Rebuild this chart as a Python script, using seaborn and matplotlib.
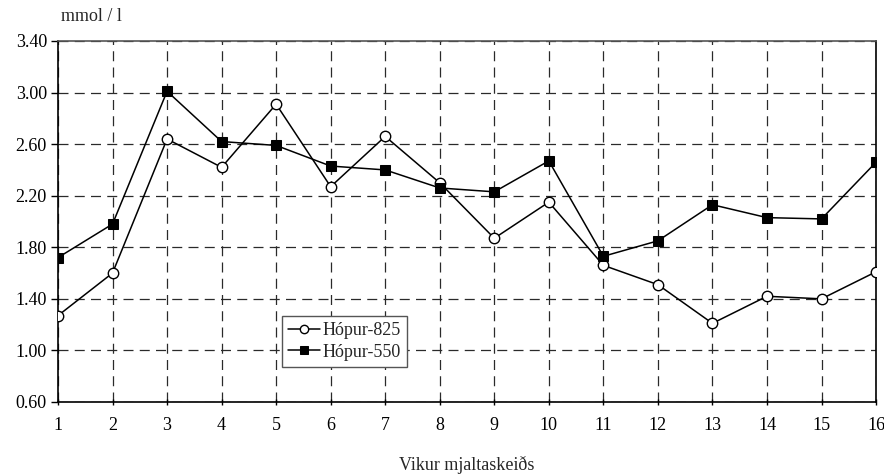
import pandas as pd
import matplotlib.pyplot as plt
import seaborn as sns

weeks = list(range(1, 17))
hopur_825 = [1.27, 1.60, 2.64, 2.42, 2.91, 2.27, 2.66, 2.30,
             1.87, 2.15, 1.66, 1.51, 1.21, 1.42, 1.40, 1.61]
hopur_550 = [1.72, 1.98, 3.01, 2.62, 2.59, 2.43, 2.40, 2.26,
             2.23, 2.47, 1.73, 1.85, 2.13, 2.03, 2.02, 2.46]
y_ticks = [0.60, 1.00, 1.40, 1.80, 2.20, 2.60, 3.00, 3.40]

sns.set_theme(style="white")
plt.rcParams['font.family'] = ['Liberation Serif', 'DejaVu Serif']

fig = plt.figure(figsize=(8.84, 4.75), dpi=100)
ax = fig.add_axes([0.0656, 0.1537, 0.9254, 0.76])

df825 = pd.DataFrame({'Vika': weeks, 'mmol': hopur_825})
df550 = pd.DataFrame({'Vika': weeks, 'mmol': hopur_550})

sns.lineplot(data=df825, x='Vika', y='mmol', ax=ax, color='black', lw=1.1,
             marker='o', markersize=7.5, markerfacecolor='white',
             markeredgecolor='black', markeredgewidth=1.0, label='Hópur-825',
             zorder=3)
sns.lineplot(data=df550, x='Vika', y='mmol', ax=ax, color='black', lw=1.1,
             marker='s', markersize=7.5, markerfacecolor='black',
             markeredgecolor='black', label='Hópur-550', zorder=3)

ax.set_xlim(1, 16)
ax.set_ylim(0.60, 3.40)
ax.set_xticks(weeks)
ax.set_yticks(y_ticks)
ax.set_yticklabels([f'{v:.2f}' for v in y_ticks])
ax.grid(True, color='#2a2a2a', linestyle=(0, (8, 5)), linewidth=0.9)
ax.tick_params(axis='both', labelsize=13, colors='black', length=5, width=1)
ax.tick_params(axis='x', direction='inout', pad=8)
ax.tick_params(axis='y', direction='out', pad=3)
ax.xaxis.set_ticks_position('bottom')
ax.yaxis.set_ticks_position('left')

for side in ['left', 'bottom', 'right']:
    ax.spines[side].set_color('black')
    ax.spines[side].set_linewidth(1.2)
ax.spines['top'].set_color('#555555')
ax.spines['top'].set_linewidth(1.2)

ax.set_xlabel('Vikur mjaltaskeiðs', fontsize=13, labelpad=16)
ax.set_ylabel('')
fig.text(0.069, 0.965, 'mmol / l', fontsize=13, ha='left', va='center')

leg = ax.legend(loc='lower left', bbox_to_anchor=(0.274, 0.097), fontsize=13,
                frameon=True, fancybox=False, framealpha=1, edgecolor='#555555',
                handlelength=1.75, borderpad=0.35, labelspacing=0.25,
                handletextpad=0.15, borderaxespad=0, markerscale=0.8)
leg.get_frame().set_linewidth(1.0)

fig.savefig('out.png', dpi=100)
